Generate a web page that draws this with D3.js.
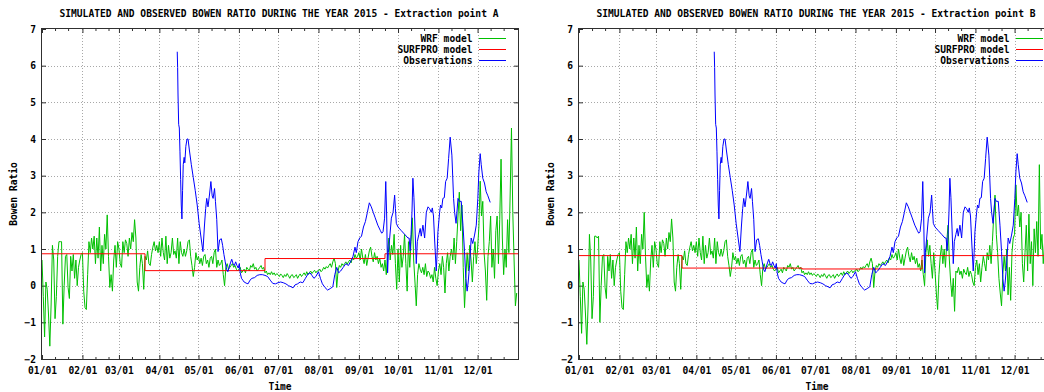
<!DOCTYPE html>
<html><head><meta charset="utf-8">
<script src="https://cdn.jsdelivr.net/npm/d3@7"></script>
<style>
html,body{margin:0;padding:0;background:#fff;overflow:hidden}
svg{display:block}
text{font-family:"DejaVu Sans Mono",monospace;font-weight:bold;font-size:9.6px;fill:#000}
</style></head><body>
<script>
// ---------------- DATA ----------------
const titles = [
  "SIMULATED AND OBSERVED BOWEN RATIO DURING THE YEAR 2015 - Extraction point A",
  "SIMULATED AND OBSERVED BOWEN RATIO DURING THE YEAR 2015 - Extraction point B"
];
const seriesNames = ["WRF model", "SURFPRO model", "Observations"];
const yTicks = [-2, -1, 0, 1, 2, 3, 4, 5, 6, 7];
const xLabel = "Time";
const yLabel = "Bowen Ratio";

// WRF daily values (day 0 = 01/01/2015)
const wrfA = [
 0.7,-0.3,-1.4,0.1,-0.1,-0.8,-1.65,-0.5,1.1,0.7,-0.9,-0.3,0.8,1.2,1.2,1.2,-1.05,0.0,0.8,0.85,-0.05,-0.35,0.8,0.4,0.85,0.2,0.7,0.0,0.5,0.7,0.85,
 0.9,-0.15,-0.6,-0.65,0.3,1.2,0.9,1.3,1.0,1.35,0.6,1.3,0.75,1.6,0.4,1.1,0.6,1.4,1.0,1.93,0.8,-0.05,0.3,-0.15,0.7,1.1,0.5,1.2,
 1.0,0.6,0.5,1.2,0.9,1.25,1.15,0.8,1.3,1.0,1.45,1.2,1.8,1.3,0.1,-0.15,0.5,0.85,0.6,-0.1,0.8,0.7,0.95,0.6,0.55,0.85,1.05,1.2,0.95,1.1,0.9,
 1.2,0.8,1.3,0.9,0.7,1.35,0.6,1.1,0.75,0.9,1.3,0.85,0.95,0.75,1.3,0.6,1.2,0.9,0.8,1.0,0.8,0.95,1.2,1.25,0.8,0.55,0.25,0.5,0.9,0.7,
 0.8,0.6,0.75,0.55,0.8,0.85,0.6,0.7,0.5,0.75,0.8,0.6,0.9,1.0,0.5,0.7,0.55,0.6,0.7,0.3,0.0,0.5,0.6,0.45,0.5,0.55,0.6,0.5,0.55,0.45,0.4,
 0.45,0.5,0.35,0.4,0.45,0.35,0.5,0.45,0.4,0.55,0.5,0.6,0.45,0.5,0.4,0.45,0.5,0.55,0.45,0.5,0.35,0.4,0.3,0.35,0.3,0.38,0.3,0.35,0.28,0.33,
 0.3,0.25,0.32,0.28,0.22,0.3,0.25,0.33,0.27,0.2,0.28,0.3,0.22,0.25,0.3,0.2,0.27,0.32,0.25,0.3,0.35,0.28,0.38,0.3,0.35,0.4,0.33,0.38,0.42,0.35,0.4,
 0.4,0.45,0.38,0.42,0.5,0.45,0.52,0.48,0.55,0.6,0.5,0.65,0.75,0.6,-0.05,0.4,0.55,0.5,0.6,0.55,0.6,0.65,0.58,0.65,0.7,0.62,0.75,0.7,0.85,0.75,0.8,
 0.9,0.7,1.0,0.75,0.6,0.85,0.55,0.75,0.95,1.05,0.8,0.65,0.9,0.7,0.8,0.6,0.75,0.5,0.6,0.4,0.7,0.3,0.9,1.3,0.7,1.1,0.85,1.4,0.6,-0.1,
 1.0,0.1,1.1,0.5,0.8,1.4,0.6,-0.15,1.2,0.5,1.2,1.85,0.7,0.1,-0.55,0.3,0.6,0.45,0.35,0.5,0.3,0.6,0.25,0.4,0.35,0.2,0.3,0.1,0.5,0.2,0.0,
 0.4,0.6,0.3,0.8,0.5,-0.2,0.6,0.9,0.4,0.8,1.0,0.7,1.3,0.6,1.2,1.9,2.55,1.5,2.2,0.5,-0.6,0.2,0.9,0.4,1.1,0.7,0.1,0.8,1.2,0.6,
 1.0,1.6,2.85,1.9,2.3,0.9,0.4,-0.4,0.8,1.2,1.9,0.5,1.0,0.2,1.5,1.9,0.6,1.8,3.45,1.3,0.3,1.0,0.5,1.8,0.9,2.5,4.3,2.0,0.7,-0.55,-0.2
];
const wrfB = [
 0.7,-0.3,-1.3,0.1,-0.1,-0.8,-1.6,-0.5,1.4,0.7,-0.9,-0.3,1.35,1.35,1.3,1.35,-1.0,0.0,0.8,0.85,-0.05,-0.35,0.8,0.4,0.85,0.2,0.7,0.0,0.5,0.7,0.85,
 0.9,-0.15,-0.6,-0.65,0.3,1.2,0.9,1.3,1.0,1.4,0.6,1.3,0.75,1.6,0.4,1.1,0.6,1.4,1.0,2.0,0.8,-0.05,0.3,-0.15,0.7,1.1,0.5,1.2,
 1.0,0.6,0.5,1.2,0.9,1.25,1.15,0.8,1.3,1.0,1.45,1.2,1.82,1.3,0.1,-0.15,0.5,0.85,0.6,-0.1,0.8,0.7,0.95,0.6,0.55,0.85,1.05,1.2,0.95,1.1,0.9,
 1.2,0.8,1.3,0.9,0.7,1.35,0.6,1.1,0.75,0.9,1.3,0.85,0.95,0.75,1.3,0.6,1.2,0.9,0.8,1.0,0.8,0.95,1.2,1.25,0.8,0.55,0.25,0.5,0.9,0.7,
 0.8,0.6,0.75,0.55,0.8,0.85,0.6,0.7,0.5,0.75,0.8,0.6,0.9,1.0,0.5,0.7,0.55,0.6,0.7,0.3,0.0,0.5,0.6,0.45,0.5,0.55,0.6,0.5,0.55,0.45,0.4,
 0.45,0.5,0.35,0.4,0.45,0.35,0.5,0.45,0.4,0.55,0.5,0.6,0.45,0.5,0.4,0.45,0.5,0.55,0.45,0.5,0.35,0.4,0.3,0.35,0.3,0.38,0.3,0.35,0.28,0.33,
 0.3,0.25,0.32,0.28,0.22,0.3,0.25,0.33,0.27,0.2,0.28,0.3,0.22,0.25,0.3,0.2,0.27,0.32,0.25,0.3,0.35,0.28,0.38,0.3,0.35,0.4,0.33,0.38,0.42,0.35,0.4,
 0.4,0.45,0.38,0.42,0.5,0.45,0.52,0.48,0.55,0.6,0.5,0.65,0.75,0.6,-0.05,0.4,0.55,0.5,0.6,0.55,0.6,0.65,0.58,0.65,0.7,0.62,0.75,0.7,0.85,0.75,0.8,
 0.9,0.7,1.0,0.75,0.6,0.85,0.55,0.75,0.95,1.05,0.8,0.65,0.9,0.7,0.8,0.6,0.75,0.5,0.6,0.4,0.7,0.3,0.0,0.9,1.25,0.8,1.1,0.6,0.2,0.9,
 0.4,-0.2,-0.65,0.3,0.8,1.1,0.6,1.0,0.5,1.2,1.65,0.7,0.1,-0.3,0.2,-0.7,0.4,0.35,0.5,0.3,0.4,0.2,0.45,0.35,0.3,0.5,0.25,0.4,0.3,0.1,0.0,
 0.5,0.7,0.3,0.6,0.1,0.5,0.8,0.6,0.4,0.9,0.7,1.1,0.6,1.2,1.9,2.47,1.4,0.9,0.2,-0.2,-0.55,0.3,0.8,0.4,1.0,-0.25,0.5,-0.4,0.9,1.3,
 1.4,2.75,1.9,2.2,1.6,2.0,0.6,0.1,0.9,1.65,0.4,1.95,0.6,1.2,0.0,1.55,0.9,1.75,0.8,3.3,1.0,1.4,0.6,1.2,0.8,1.5,0.9,1.1,0.7,1.0,0.8
];

// SURFPRO seasonal step values (start day of each season, last entry = end of year)
const surfproStartDay = [0, 79, 171, 263, 365];
const surfproA = [0.87, 0.41, 0.74, 0.87];
const surfproB = [0.82, 0.48, 0.455, 0.82];

// Observations (day of year, value) - same station record in both panels
const obsDay = [103.7,104.0,104.3,104.8,105.3,105.8,106.3,106.8,107.3,107.8,108.3,109.0,109.5,110.3,111.2,112.0,113.0,114.5,116.0,117.5,119.0,120.5,122.0,123.4,124.5,125.5,126.3,127.3,128.5,129.5,130.5,131.2,132.3,133.0,134.0,135.0,136.2,137.5,138.5,139.5,140.5,141.5,142.5,143.5,144.5,145.5,146.5,147.5,148.5,149.5,150.5,151.3,152.0,153.0,154.0,155.0,156.5,158.0,159.5,161.0,163.0,165.0,167.0,169.0,171.0,173.0,175.0,177.0,179.0,181.0,183.0,185.0,187.0,189.0,191.0,192.5,194.0,196.0,198.0,200.0,202.0,204.0,205.5,207.0,208.5,210.0,212.0,213.5,215.0,217.0,219.0,221.0,223.0,224.5,226.0,227.5,229.0,231.0,233.0,235.0,237.0,238.5,240.0,241.0,242.3,243.6,245.0,246.5,248.0,249.5,251.0,252.5,254.0,255.5,257.5,259.5,260.5,261.5,262.7,263.6,264.3,265.0,265.6,266.6,267.9,269.2,270.4,271.0,271.7,273.0,275.5,278.1,280.6,281.5,282.3,283.0,283.7,284.4,285.2,286.0,287.0,287.8,289.0,290.0,290.8,292.1,293.4,294.7,296.0,297.2,298.5,299.3,300.2,301.0,302.3,303.0,303.6,304.9,305.6,306.5,307.4,308.5,309.5,310.7,311.8,313.0,314.3,315.6,316.4,317.5,319.0,320.0,321.5,322.8,324.0,325.0,326.0,326.8,327.9,329.1,330.3,331.7,333.0,334.2,335.0,336.0,336.8,338.0,339.3,340.6,341.9,343.7];
const obsValue = [6.38,5.95,5.2,4.4,4.3,3.65,2.9,2.2,1.82,2.6,3.3,3.5,3.35,3.8,4.0,4.0,3.7,3.3,2.95,2.6,2.2,1.7,1.3,0.93,1.6,2.1,2.38,2.15,2.5,2.84,2.45,2.38,2.65,2.3,1.8,0.93,1.25,1.28,1.1,0.85,0.65,0.45,0.38,0.5,0.62,0.72,0.6,0.55,0.65,0.55,0.48,0.6,0.35,0.2,0.15,0.1,0.07,0.05,0.15,0.2,0.22,0.28,0.3,0.3,0.28,0.25,0.15,0.06,0.05,0.08,0.1,0.08,0.05,0.0,-0.03,-0.06,0.02,0.05,0.1,0.08,0.2,0.32,0.35,0.28,0.2,0.25,0.38,0.2,0.05,-0.05,-0.12,-0.08,-0.03,0.3,0.5,0.35,0.4,0.5,0.6,0.55,0.68,0.8,1.05,0.9,1.2,1.3,1.35,1.6,1.75,2.0,2.26,2.15,2.0,1.85,1.65,1.5,1.43,1.47,1.84,2.84,1.9,0.35,0.9,1.3,1.84,2.0,2.47,2.1,1.7,1.6,1.5,1.4,1.3,1.3,0.95,1.4,2.0,2.93,2.4,1.6,0.6,1.2,1.4,1.56,1.35,1.65,1.3,2.0,2.15,2.1,2.0,2.12,1.9,1.3,0.4,0.9,1.47,2.0,2.2,2.12,2.38,2.4,2.84,2.93,3.47,4.05,3.56,2.38,2.0,1.7,2.38,2.3,2.3,1.65,0.93,0.2,-0.15,0.1,0.56,1.3,1.15,1.38,1.65,2.38,3.1,3.6,3.3,2.93,2.8,2.56,2.45,2.27];

// ---------------- STYLE ----------------
const colors = {wrf: "#00c000", surf: "#ff0000", obs: "#0000ff", grid: "#a8a8a8", border: "#303030"};

// ---------------- DRAW ----------------
const W = 1044, H = 392;
const L = 42, R = 518, T = 29, B = 359;
const t0 = Date.UTC(2015, 0, 1);
const toDate = d => new Date(t0 + d * 864e5);

const x = d3.scaleUtc().domain([toDate(0), toDate(365)]).range([L, R]);
const y = d3.scaleLinear().domain([-2, 7]).range([B, T]);
const months = d3.utcMonth.range(toDate(0), toDate(365));
const minors = months.flatMap(m => [d3.utcDay.offset(m, 10), d3.utcDay.offset(m, 20)]);
const fmt = d3.utcFormat("%m/%d");

const svg = d3.select("body").append("svg").attr("width", W).attr("height", H);

const panels = [
  {title: titles[0], wrf: wrfA, surf: surfproA, dx: 0, id: "A"},
  {title: titles[1], wrf: wrfB, surf: surfproB, dx: 537, id: "B"}
];

const line = d3.line().x(d => x(toDate(d[0]))).y(d => y(d[1]));
const stepLine = d3.line().curve(d3.curveStepAfter).x(d => x(toDate(d[0]))).y(d => y(d[1]));
const px = v => Math.round(v) + 0.5;

panels.forEach(p => {
  const g = svg.append("g").attr("transform", `translate(${p.dx},0)`);

  g.append("clipPath").attr("id", "clip" + p.id)
    .append("rect").attr("x", L).attr("y", T).attr("width", R - L).attr("height", B - T);

  // grid
  const grid = g.append("g").attr("stroke", colors.grid).attr("stroke-dasharray", "1,2").attr("stroke-width", 1);
  grid.selectAll("line.v").data(months.slice(1)).join("line")
    .attr("x1", d => px(x(d))).attr("x2", d => px(x(d))).attr("y1", T).attr("y2", B);
  grid.selectAll("line.h").data(yTicks.filter(v => v > -2 && v < 7)).join("line")
    .attr("y1", d => px(y(d))).attr("y2", d => px(y(d))).attr("x1", L).attr("x2", R);

  // axes (ticks inward, mirrored)
  const axB = g.append("g").attr("transform", `translate(0,${B})`)
    .call(d3.axisBottom(x).tickValues(months).tickFormat(fmt).tickSizeInner(-4).tickSizeOuter(0).tickPadding(8));
  const axT = g.append("g").attr("transform", `translate(0,${T})`)
    .call(d3.axisTop(x).tickValues(months).tickFormat(() => "").tickSizeInner(-4).tickSizeOuter(0));
  const mB = g.append("g").attr("transform", `translate(0,${B})`)
    .call(d3.axisBottom(x).tickValues(minors).tickFormat(() => "").tickSizeInner(-2).tickSizeOuter(0));
  const mT = g.append("g").attr("transform", `translate(0,${T})`)
    .call(d3.axisTop(x).tickValues(minors).tickFormat(() => "").tickSizeInner(-2).tickSizeOuter(0));
  const axL = g.append("g").attr("transform", `translate(${L},0)`)
    .call(d3.axisLeft(y).tickValues(yTicks).tickFormat(d3.format("d")).tickSizeInner(-4).tickSizeOuter(0).tickPadding(6));
  const axR = g.append("g").attr("transform", `translate(${R},0)`)
    .call(d3.axisRight(y).tickValues(yTicks).tickFormat(() => "").tickSizeInner(-4).tickSizeOuter(0));
  [axB, axT, mB, mT, axL, axR].forEach(a => {
    a.select(".domain").remove();
    a.selectAll(".tick line").attr("stroke", colors.border);
  });

  // data
  const data = g.append("g").attr("clip-path", `url(#clip${p.id})`).attr("fill", "none").attr("stroke-width", 1);
  data.append("path").attr("stroke", colors.wrf)
    .attr("d", line(p.wrf.map((v, i) => [i, v])));
  const surfPts = surfproStartDay.map((d, i) => [d, p.surf[Math.min(i, p.surf.length - 1)]]);
  data.append("path").attr("stroke", colors.surf).attr("d", stepLine(surfPts));
  data.append("path").attr("stroke", colors.obs)
    .attr("d", line(obsDay.map((d, i) => [d, obsValue[i]])));

  // border
  g.append("rect").attr("x", L - 0.5).attr("y", T - 0.5).attr("width", R - L + 1).attr("height", B - T + 1)
    .attr("fill", "none").attr("stroke", colors.border).attr("stroke-width", 1);

  // titles / labels
  g.append("text").attr("x", 279).attr("y", 16.5).attr("text-anchor", "middle").text(p.title);
  g.append("text").attr("x", (L + R) / 2).attr("y", 390).attr("text-anchor", "middle").text(xLabel);
  g.append("text").attr("transform", `translate(16.8,${(T + B) / 2}) rotate(-90)`).attr("text-anchor", "middle").text(yLabel);

  // legend
  const legCols = [colors.wrf, colors.surf, colors.obs];
  seriesNames.forEach((name, i) => {
    const cy = 38.5 + 11 * i;
    g.append("text").attr("x", 472.5).attr("y", cy + 3.5).attr("text-anchor", "end").text(name);
    g.append("line").attr("x1", 479).attr("x2", 506).attr("y1", cy).attr("y2", cy)
      .attr("stroke", legCols[i]).attr("stroke-width", 1);
  });
});
</script>
</body></html>
